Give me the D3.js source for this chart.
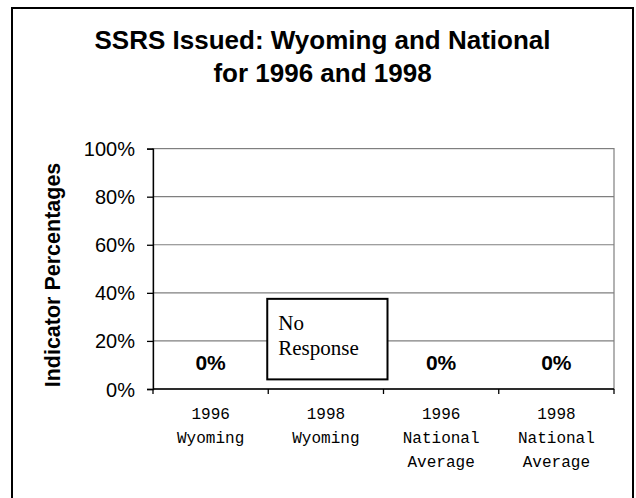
<!DOCTYPE html>
<html>
<head>
<meta charset="utf-8">
<script src="https://cdn.jsdelivr.net/npm/d3@7/dist/d3.min.js"></script>
<style>
  html, body { margin: 0; padding: 0; background: #fff; }
  svg { display: block; }
</style>
</head>
<body>
<svg id="chart" width="636" height="498"></svg>
<script>
// ---- data ----
const titleLines = ["SSRS Issued: Wyoming and National", "for 1996 and 1998"];
const yAxisTitle = "Indicator Percentages";
const categories = ["1996 Wyoming", "1998 Wyoming", "1996 National Average", "1998 National Average"];
const categoryLabelLines = [["1996", "Wyoming"], ["1998", "Wyoming"], ["1996", "National", "Average"], ["1998", "National", "Average"]];
const values = [0, null, 0, 0];           // null = no response
const valueLabels = ["0%", null, "0%", "0%"];
const yTicks = [0, 0.2, 0.4, 0.6, 0.8, 1.0];
const noResponseText = ["No", "Response"];
const noResponseRange = [0.04, 0.375];    // vertical extent of the annotation box (in axis units)

// ---- layout ----
const svg = d3.select("#chart");
const W = 636, H = 498;
const plot = { left: 153, right: 614, top: 148.6, bottom: 389 };

const x = d3.scaleBand().domain(categories).range([plot.left, plot.right]).paddingInner(0).paddingOuter(0);
const y = d3.scaleLinear().domain([0, 1]).range([plot.bottom, plot.top]);

// outer frame
svg.append("rect")
  .attr("x", 12).attr("y", 8).attr("width", 621).attr("height", 500)
  .attr("fill", "#fff").attr("stroke", "#000").attr("stroke-width", 2);

// title
const title = svg.append("g").attr("font-family", "'Liberation Sans', Arial, sans-serif")
  .attr("font-weight", "bold").attr("font-size", 26).attr("fill", "#000").attr("text-anchor", "middle");
title.selectAll("text").data(titleLines).join("text")
  .attr("x", 322.5).attr("y", (d, i) => 48.5 + i * 33.5).text(d => d);

// plot area border (grey)
svg.append("rect")
  .attr("x", plot.left).attr("y", plot.top)
  .attr("width", plot.right - plot.left).attr("height", plot.bottom - plot.top)
  .attr("fill", "none").attr("stroke", "#7f7f7f").attr("stroke-width", 1.2);

// gridlines
svg.append("g").selectAll("line").data(yTicks.filter(t => t > 0 && t < 1)).join("line")
  .attr("x1", plot.left).attr("x2", plot.right)
  .attr("y1", d => y(d)).attr("y2", d => y(d))
  .attr("stroke", "#7f7f7f").attr("stroke-width", 1.2);

// y axis
const yAxis = svg.append("g").attr("transform", `translate(${plot.left},0)`)
  .call(d3.axisLeft(y).tickValues(yTicks).tickFormat(d3.format(".0%")).tickSize(6).tickPadding(12));
yAxis.select(".domain").attr("stroke", "#000").attr("stroke-width", 1.3);
yAxis.selectAll(".tick line").attr("stroke", "#000").attr("stroke-width", 1.3);
yAxis.selectAll(".tick text")
  .attr("font-family", "'Liberation Sans', Arial, sans-serif")
  .attr("font-size", 20).attr("fill", "#000").attr("dy", "0.35em");

// x axis (ticks at category boundaries)
const xAxisG = svg.append("g");
xAxisG.append("line")
  .attr("x1", plot.left).attr("x2", plot.right)
  .attr("y1", plot.bottom).attr("y2", plot.bottom)
  .attr("stroke", "#000").attr("stroke-width", 1.3);
const boundaries = categories.map(c => x(c)).concat([x(categories[categories.length - 1]) + x.bandwidth()]);
xAxisG.selectAll("line.tk").data(boundaries).join("line").attr("class", "tk")
  .attr("x1", d => d).attr("x2", d => d)
  .attr("y1", plot.bottom).attr("y2", plot.bottom + 5)
  .attr("stroke", "#000").attr("stroke-width", 1.3);

// category labels
const catG = svg.append("g").attr("font-family", "'Liberation Mono', 'Courier New', monospace")
  .attr("font-size", 16).attr("fill", "#000").attr("text-anchor", "middle");
categories.forEach((c, i) => {
  const cx = x(c) + x.bandwidth() / 2;
  catG.selectAll(null).data(categoryLabelLines[i]).join("text")
    .attr("x", cx).attr("y", (d, j) => 419 + j * 24).text(d => d);
});

// bars (zero height)
svg.append("g").selectAll("rect").data(categories.map((c, i) => ({ c, v: values[i] })).filter(d => d.v !== null)).join("rect")
  .attr("x", d => x(d.c) + x.bandwidth() * 0.2).attr("width", x.bandwidth() * 0.6)
  .attr("y", d => y(d.v)).attr("height", d => y(0) - y(d.v))
  .attr("fill", "#000");

// value labels
svg.append("g").selectAll("text").data(categories.map((c, i) => ({ c, t: valueLabels[i] })).filter(d => d.t !== null)).join("text")
  .attr("x", d => x(d.c) + x.bandwidth() / 2).attr("y", plot.bottom - 19)
  .attr("text-anchor", "middle")
  .attr("font-family", "'Liberation Sans', Arial, sans-serif").attr("font-weight", "bold")
  .attr("font-size", 21).attr("fill", "#000").text(d => d.t);

// "No Response" annotation
const nrIdx = values.findIndex(v => v === null);
const nrCat = categories[nrIdx];
const nrG = svg.append("g");
nrG.append("rect")
  .attr("x", x(nrCat) - 1).attr("width", x.bandwidth() + 5)
  .attr("y", y(noResponseRange[1])).attr("height", y(noResponseRange[0]) - y(noResponseRange[1]))
  .attr("fill", "#fff").attr("stroke", "#000").attr("stroke-width", 2);
nrG.selectAll("text").data(noResponseText).join("text")
  .attr("x", x(nrCat) + 10).attr("y", (d, i) => 330 + i * 25)
  .attr("font-family", "'Liberation Serif', 'Times New Roman', serif")
  .attr("font-size", 21).attr("fill", "#000").text(d => d);

// y axis title
svg.append("text")
  .attr("transform", `translate(${60},${275}) rotate(-90)`)
  .attr("text-anchor", "middle")
  .attr("font-family", "'Liberation Sans', Arial, sans-serif").attr("font-weight", "bold")
  .attr("font-size", 21.5).attr("fill", "#000").text(yAxisTitle);
</script>
</body>
</html>
